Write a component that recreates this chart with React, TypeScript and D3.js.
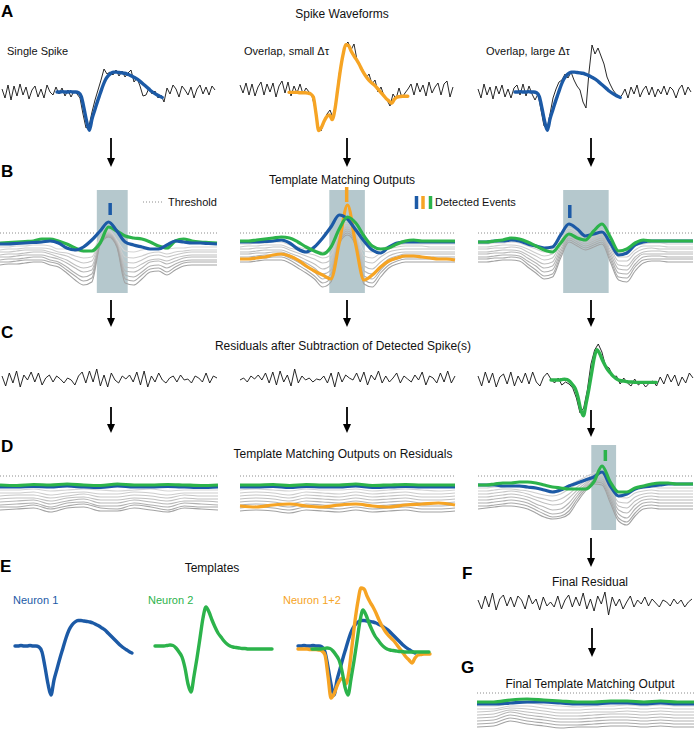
import React from 'react';
import * as d3 from 'd3';

const FONT = '"Liberation Sans", Arial, Helvetica, sans-serif';
const BLUE = '#1c5aa6';
const GREEN = '#2cb34b';
const ORANGE = '#f6a424';
const SHADE = '#b5c8cd';
const INK = '#111111';

// templates, sampled every 3 px in panel E (amplitude in px, up = positive)
const neuron1 = [0, 0, 0.5, 0, 0, 0.5, 0, 0, -1, -6, -21, -38, -49, -34, -23, -12, -2, 8, 16, 21, 24, 25.5, 25.5, 25, 24.5, 24, 23, 21.5, 20, 18, 16, 13, 10, 7, 4, 1, -1.5, -3.5, -5.5, -7];
const neuron2 = [0, 0, 0, 0, 0.5, 1, 0.5, -2, -6, -11, -22, -38, -46, -30, -12, 8, 28, 39, 34, 26, 19, 13, 9, 5, 2, 0, -1, -1.5, -2, -2.5, -2.5, -3, -3, -3, -3, -3, -3, -3, -3, -3];
const neuron12 = [-3, -3, -3, -3, -3.5, -3.5, -3.5, -4, -5, -9, -30, -52, -48, -40, -34, -32, -38, -25, 0, 25, 45, 58, 57, 50, 44, 39, 33, 26, 20, 15, 11, 8, 5, 1, -3, -7, -11, -14, -17, -12, -9, -8.5, -8, -8, -8];

// raw recordings (px, up = positive)
const rawSingle = [3, -6, 7, -8, 6, -4, 8, -3, 5, -7, 2, 6, -5, 3, -6, 7, 0, -3, 5, -2, 4, -4, 2, -5, 1, -2, -6, -22, -36, -34, -20, -8, 2, 12, 23, 18, 20, 17, 22, 16, 21, 15, 19, 22, 10, 14, 6, -4, -3, 4, -2, 1, -6, -3, -10, 4, -2, 7, 3, -5, 6, 2, -3, 5, -6, 3, 7, -2, 5, -3, 6, 2];
const rawSmallDt = [5, -3, 7, -5, 6, -6, 3, 8, -5, 6, -2, 7, -7, 4, 9, -3, 8, -6, 4, -3, 6, -4, 2, -2, -6, -18, -36, -41, -32, -24, -20, -28, -10, 15, 32, 45, 48, 40, 46, 30, 24, 20, 12, 16, 6, 10, -2, 3, -6, -10, -16, -4, -9, 2, -8, -3, 1, 6, -5, 7, -2, 5, -6, 8, -3, 3, 7, -5, 6, 9, -7, 3];
const rawLargeDt = [3, -6, 8, -3, 5, -7, 6, -2, 7, -5, 3, -6, 4, 7, -3, 8, -4, 6, -2, -8, -2, -18, -34, -37, -22, -6, 3, 10, 12, 18, 14, 20, 12, 6, 2, -10, -16, 20, 47, 38, 44, 36, 28, 15, 8, 2, -2, -6, -3, 3, -6, 5, -2, 7, -5, 2, 6, -3, 5, -5, 3, -2, 6, -3, 5, 2, -6, 3, 7, -3, 5, 0];
const residual1 = [3, -7, 6, -4, 8, -8, 4, -1, 7, -3, 6, -6, 1, 4, -3, 3, 0, -4, 1, -1, -6, 3, 7, -4, 8, -3, 10, -7, 4, -8, 6, -1, -4, 3, 0, 4, -3, 7, -6, 8, -8, 3, -3, 6, -1, -4, 1, 3, -3, 4, -1, 0, -4, 3, 1, -3, 6, -4, 3, 1];
const residual2 = [-1, 1, -3, 3, 0, 4, -1, 6, -4, 7, -6, 8, -3, 4, -7, 10, -4, 3, -1, 1, -3, 0, -1, 3, -4, 6, -8, 7, -3, 4, 1, -1, 6, -3, 7, -6, 4, -1, 8, -4, 3, -3, 1, 6, -4, 3, 0, -3, 4, -1, 7, -6, 3, 1, -4, 6, -3, 8, -4, 3];
const residual3 = [4, -6, 8, -3, 7, -7, 3, 6, -4, 8, -6, 4, -3, 7, -4, 8, -2, -6, 3, 7, 1, -3, 2, -5, -2, -4, -8, -18, -33, -28, -10, 16, 30, 36, 28, 14, 12, 3, 4, -4, 2, -3, -6, 1, -5, -2, -7, -3, -1, -6, 3, -4, 6, -2, 5, -6, 3, -3, 7, 2];
const finalResidual = [3, -6, 7, -4, 10, -7, 4, 8, -3, 6, -4, 7, 3, -6, 8, -1, 4, -7, 6, -3, 1, -4, 7, -6, 3, 8, -4, 6, -3, 10, -6, 4, -8, 7, -1, 11, -12, 6, -3, 4, -6, 1, 7, -4, 3, -1, 6, -3, 4, 0, -4, 3, 1, -3, 4, -1, 3, -4, 1, 4];

// template matching outputs (px relative to threshold)
const b1Blue = [-11, -11, -10.5, -10, -9.5, -9, -8, -10, -15, -17, -14, -7, 2, 11, 2, -9, -12, -14, -16, -16, -12, -8, -9, -10, -10, -10.5, -11];
const b1Green = [-10, -9.5, -9, -8.5, -8, -6, -6, -8, -11, -15, -18, -18, -10, 6, 2, -3, -5, -6, -9, -13, -15, -8, -6, -8, -9, -9.5, -10];
const b1Gray = [
  [-14, -14, -13, -13, -12, -12, -13, -16, -16, -18, -19, -18, -5, 3, -7, -18, -19, -17, -16, -15, -16, -15, -15, -14, -14, -14, -14],
  [-17, -16, -16, -15, -15, -15, -16, -19, -20, -23, -25, -24, -6, 2, -8, -24, -25, -23, -20, -19, -21, -19, -18, -17, -17, -17, -17],
  [-19, -19, -18, -17, -17, -17, -19, -21, -23, -27, -30, -28, -7, 1, -9, -29, -30, -27, -23, -22, -24, -22, -20, -19, -19, -19, -19],
  [-22, -21, -21, -20, -19, -19, -21, -24, -27, -32, -35, -33, -8, 0, -10, -34, -35, -31, -27, -26, -28, -25, -23, -22, -22, -22, -22],
  [-24, -24, -23, -22, -22, -22, -24, -26, -30, -35, -39, -37, -9, -1, -11, -38, -39, -35, -29, -28, -31, -28, -25, -24, -24, -24, -24],
  [-27, -26, -26, -25, -24, -24, -27, -29, -34, -40, -44, -41, -10, -2, -12, -42, -44, -39, -33, -32, -35, -31, -28, -27, -27, -27, -27],
  [-29, -29, -28, -27, -27, -27, -29, -31, -37, -43, -48, -45, -11, -3, -13, -46, -48, -42, -36, -35, -39, -34, -30, -29, -29, -29, -29],
  [-32, -31, -31, -30, -29, -29, -32, -34, -40, -47, -52, -49, -12, -4, -14, -50, -52, -46, -39, -38, -42, -37, -33, -32, -32, -32, -32],
];
const b2Blue = [-9, -9, -9, -8.5, -8, -7, -10, -16, -19, -14, -5, 6, 18, 14, 3, -8, -17, -20, -14, -10, -9, -9, -9, -9, -9, -9, -9];
const b2Green = [-8, -8, -7, -6, -5, -4, -5, -9, -14, -18, -21, -14, 4, 16, 10, -3, -13, -16, -15, -11, -8, -7, -8, -8, -8, -8, -8];
const b2Orange = [-26, -26, -25, -24, -22, -21, -23, -27, -33, -38, -42, -46, -10, 28, -12, -47, -42, -34, -28, -25, -23, -23, -24, -25, -26, -26, -27];
const b2Gray = [
  [-11, -11, -10, -10, -9, -9, -12, -14, -16, -17, -19, -17, 4, 12, 2, -18, -19, -16, -13, -12, -11, -11, -11, -11, -11, -11, -11],
  [-14, -13, -13, -12, -12, -12, -15, -17, -20, -22, -25, -22, 1, 10, 0, -23, -25, -20, -16, -14, -13, -13, -13, -14, -14, -14, -14],
  [-16, -16, -15, -15, -14, -14, -17, -20, -23, -26, -30, -27, -1, 8, -2, -28, -30, -24, -19, -17, -16, -16, -16, -16, -16, -16, -16],
  [-19, -19, -18, -17, -17, -17, -20, -23, -27, -31, -36, -32, -3, 6, -5, -33, -36, -29, -23, -20, -19, -19, -19, -19, -19, -19, -19],
  [-21, -21, -20, -20, -19, -19, -22, -26, -30, -35, -41, -37, -5, 4, -7, -38, -41, -33, -26, -23, -21, -21, -21, -21, -21, -21, -21],
  [-24, -24, -23, -22, -22, -22, -25, -29, -34, -39, -46, -41, -7, 2, -9, -43, -46, -37, -29, -26, -24, -24, -24, -24, -24, -24, -24],
  [-26, -26, -25, -25, -24, -24, -27, -32, -37, -43, -50, -45, -9, 0, -11, -47, -50, -40, -32, -28, -26, -26, -26, -26, -26, -26, -26],
  [-29, -29, -28, -27, -27, -27, -30, -35, -40, -46, -54, -49, -11, -2, -13, -51, -54, -44, -35, -31, -29, -29, -29, -29, -29, -29, -29],
];
const b3Blue = [-9, -9, -8, -8, -7, -8, -11, -13, -15, -14, -2, 9, 4, -3, -1, 1, -10, -22, -20, -12, -9, -8, -8, -8, -8, -8, -8];
const b3Green = [-9, -9, -8, -7, -5, -6, -9, -13, -17, -19, -10, -1, -5, -7, 2, 9, -4, -18, -16, -10, -7, -8, -8, -8, -8, -8, -8];
const b3Gray = [
  [-11, -11, -10, -10, -9, -10, -13, -16, -19, -16, -4, 5, 1, -3, 0, 3, -8, -20, -19, -13, -11, -10, -10, -11, -11, -11, -11],
  [-14, -14, -13, -12, -12, -13, -16, -20, -23, -21, -7, 3, -1, -5, -2, 1, -11, -24, -24, -17, -13, -13, -13, -14, -14, -14, -14],
  [-16, -16, -15, -15, -14, -15, -19, -23, -27, -25, -10, 1, -3, -7, -4, -1, -14, -28, -28, -20, -16, -15, -16, -16, -16, -16, -16],
  [-19, -19, -18, -17, -17, -18, -22, -27, -31, -29, -13, -1, -5, -9, -6, -3, -17, -32, -33, -24, -19, -18, -18, -19, -19, -19, -19],
  [-21, -21, -20, -20, -19, -20, -25, -30, -35, -33, -16, -3, -7, -11, -8, -5, -20, -36, -37, -27, -21, -21, -21, -21, -21, -21, -21],
  [-24, -24, -23, -22, -22, -23, -28, -33, -39, -37, -19, -5, -9, -13, -10, -7, -23, -40, -41, -31, -24, -23, -23, -24, -24, -24, -24],
  [-26, -26, -25, -25, -24, -25, -31, -37, -43, -41, -22, -7, -11, -15, -12, -9, -26, -44, -45, -34, -27, -26, -26, -26, -26, -26, -26],
  [-29, -29, -28, -27, -27, -28, -34, -40, -46, -44, -25, -9, -13, -17, -14, -11, -29, -47, -49, -38, -30, -28, -28, -29, -29, -29, -29],
];
const d1Green = [-9, -9.5, -8.5, -9, -8, -9, -9.5, -8, -9, -9, -8.5, -9, -9.5, -9];
const d1Blue = [-11, -11, -10.5, -11, -10, -11, -11.5, -10, -11, -11, -10.5, -11, -11.5, -11];
const d1Gray = [
  [-14, -14, -13, -15, -14, -13, -14, -15, -14, -13, -15, -14, -14, -14],
  [-17, -17, -16, -19, -17, -16, -18, -18, -16, -17, -19, -17, -17, -17],
  [-20, -19, -19, -22, -20, -18, -21, -21, -19, -20, -22, -19, -20, -20],
  [-23, -22, -22, -25, -22, -21, -24, -24, -22, -23, -25, -22, -23, -23],
  [-26, -25, -24, -28, -25, -23, -27, -27, -24, -26, -28, -25, -25, -26],
  [-29, -28, -27, -31, -27, -26, -30, -30, -27, -29, -31, -27, -28, -29],
  [-31, -31, -29, -33, -30, -28, -32, -33, -29, -31, -34, -30, -31, -31],
  [-34, -33, -32, -36, -32, -31, -35, -35, -32, -34, -36, -32, -33, -34],
];
const d2Green = [-9, -9, -8.5, -9.5, -8.5, -9, -9, -8, -9.5, -9, -8.5, -9, -9, -9];
const d2Blue = [-11, -11, -10.5, -11.5, -10.5, -11, -11, -10, -11.5, -11, -10.5, -11, -11, -11];
const d2Orange = [-30, -31, -29, -28, -30, -31, -29, -28, -30, -31, -29, -28, -27, -29];
const d2Gray = [
  [-14, -13, -14, -15, -13, -14, -14, -13, -15, -14, -13, -14, -15, -14],
  [-17, -16, -17, -19, -16, -17, -18, -16, -18, -17, -16, -18, -18, -17],
  [-20, -19, -20, -22, -19, -20, -21, -19, -21, -20, -19, -21, -21, -20],
  [-23, -22, -23, -25, -22, -23, -24, -22, -24, -23, -22, -24, -24, -23],
  [-26, -25, -26, -28, -25, -26, -27, -25, -27, -26, -25, -27, -27, -26],
  [-29, -28, -29, -31, -28, -29, -30, -28, -30, -29, -28, -30, -30, -29],
  [-32, -31, -32, -34, -31, -32, -33, -31, -33, -32, -31, -33, -33, -32],
  [-35, -34, -35, -37, -34, -35, -36, -34, -36, -35, -34, -36, -36, -35],
];
const d3Blue = [-9, -9, -9, -10, -10, -10, -11, -12, -14, -16, -14, -10, -7, -4, -1, 4, -10, -20, -18, -13, -11, -10, -9, -8, -8, -8, -8];
const d3Green = [-9, -9, -8, -7, -7, -6, -6, -7, -9, -11, -12, -13, -13, -13, -6, 10, -6, -16, -16, -12, -10, -8, -7, -7, -8, -8, -8];
const d3Gray = [
  [-12, -12, -11, -11, -10, -11, -12, -13, -14, -15, -13, -9, -5, -1, 3, 5, -6, -16, -17, -13, -12, -11, -12, -12, -12, -12, -12],
  [-15, -15, -14, -13, -13, -14, -15, -17, -19, -20, -18, -13, -8, -3, 1, 3, -9, -21, -22, -17, -15, -14, -15, -15, -15, -15, -15],
  [-18, -18, -17, -16, -15, -16, -18, -21, -23, -25, -23, -18, -11, -5, 0, 1, -12, -26, -27, -21, -18, -17, -18, -18, -18, -18, -18],
  [-21, -21, -20, -19, -18, -19, -21, -24, -27, -29, -28, -22, -14, -7, -2, -1, -15, -30, -32, -25, -21, -20, -21, -21, -21, -21, -21],
  [-24, -24, -23, -22, -21, -22, -24, -28, -31, -34, -33, -27, -17, -9, -3, -3, -18, -34, -37, -29, -24, -23, -24, -24, -24, -24, -24],
  [-27, -27, -26, -25, -24, -25, -27, -31, -35, -38, -37, -31, -20, -11, -5, -5, -21, -38, -42, -33, -27, -26, -27, -27, -27, -27, -27],
  [-30, -30, -29, -28, -27, -28, -30, -34, -38, -41, -40, -35, -23, -13, -6, -7, -24, -42, -46, -37, -30, -29, -30, -30, -30, -30, -30],
  [-33, -32, -31, -30, -30, -31, -33, -37, -41, -43, -42, -38, -26, -15, -8, -9, -27, -45, -49, -40, -33, -32, -33, -33, -33, -33, -33],
];
const gGreen = [-9, -9, -7, -6, -7, -8, -9, -9, -8, -8, -9, -8, -9, -9];
const gBlue = [-11, -11, -10, -9, -9, -10, -11, -11, -10, -10, -11, -10, -11, -11];
const gGray = [
  [-13, -13, -11, -10, -12, -13, -14, -13, -13, -12, -13, -12, -13, -13],
  [-16, -16, -13, -13, -15, -17, -17, -16, -16, -15, -16, -15, -16, -16],
  [-19, -18, -15, -16, -18, -20, -20, -19, -19, -18, -19, -18, -19, -19],
  [-22, -21, -17, -19, -21, -23, -23, -22, -21, -21, -22, -21, -22, -22],
  [-25, -24, -19, -22, -24, -26, -26, -25, -24, -24, -25, -24, -25, -25],
  [-28, -27, -22, -25, -27, -29, -29, -28, -27, -27, -28, -27, -28, -28],
  [-31, -30, -25, -28, -30, -32, -32, -31, -30, -30, -31, -30, -31, -31],
  [-34, -33, -28, -31, -33, -35, -34, -34, -33, -33, -34, -33, -34, -34],
];

// detection windows and events, in sample-index units: [B1, B2, B3, D3]
const windowFrom = [11.6, 10.8, 10.3, 13.7];
const windowTo = [15.3, 15.1, 15.8, 16.7];
const eventAt = [13.2, 12.9, 11.1, 15.4];

const linePath = (values: number[], x0: number, x1: number, base: number, k = 1, curve: d3.CurveFactory = d3.curveLinear) => {
  const x = d3.scaleLinear().domain([0, values.length - 1]).range([x0, x1]);
  const y = d3.scaleLinear().domain([0, 1]).range([base, base - k]);
  return d3.line<number>().x((_, i) => x(i)).y((d) => y(d)).curve(curve)(values) ?? '';
};

const Trace = ({ values, x0, x1, base }: { values: number[]; x0: number; x1: number; base: number }) => (
  <path d={linePath(values, x0, x1, base)} fill="none" stroke={INK} strokeWidth={0.9} strokeLinejoin="round" />
);

const Template = ({ values, x0, step, base, k, color }: { values: number[]; x0: number; step: number; base: number; k: number; color: string }) => (
  <path
    d={linePath(values, x0, x0 + step * (values.length - 1), base, k, d3.curveMonotoneX)}
    fill="none" stroke={color} strokeWidth={3.4} strokeLinecap="round" strokeLinejoin="round"
  />
);

type Win = { idx: number; top: number; bottom: number; markTop: number; markBottom: number; color: string };

const MatchPanel = ({ x0, x1, thr, grays, lines, win }: { x0: number; x1: number; thr: number; grays: number[][]; lines: { data: number[]; color: string }[]; win?: Win }) => {
  const n = grays[0].length;
  const x = d3.scaleLinear().domain([0, n - 1]).range([x0, x1]);
  const y = d3.scaleLinear().domain([0, 1]).range([thr, thr - 1]);
  const line = d3.line<number>().x((_, i) => x(i)).y((d) => y(d)).curve(d3.curveMonotoneX);
  const grayColor = d3.interpolateRgb('#d4d4d4', '#a2a2a2');
  return (
    <g>
      <line x1={x0} x2={x1} y1={thr} y2={thr} stroke="#8c8c8c" strokeWidth={1} strokeDasharray="1 2" />
      {win && (
        <rect
          x={x(windowFrom[win.idx])} width={x(windowTo[win.idx]) - x(windowFrom[win.idx])}
          y={y(win.top)} height={y(win.bottom) - y(win.top)} fill={SHADE}
        />
      )}
      {grays.map((g, j) => (
        <path key={j} d={line(g) ?? ''} fill="none" stroke={grayColor(j / (grays.length - 1))} strokeWidth={1.1} />
      ))}
      {lines.map((l, j) => (
        <path key={j} d={line(l.data) ?? ''} fill="none" stroke={l.color} strokeWidth={3.2} strokeLinejoin="round" />
      ))}
      {win && (
        <line x1={x(eventAt[win.idx])} x2={x(eventAt[win.idx])} y1={y(win.markTop)} y2={y(win.markBottom)} stroke={win.color} strokeWidth={3.5} />
      )}
    </g>
  );
};

const Arrow = ({ x, y1, y2 }: { x: number; y1: number; y2: number }) => (
  <g>
    <line x1={x} x2={x} y1={y1} y2={y2 - 7} stroke="#000" strokeWidth={1.8} />
    <path d={`M${x - 4},${y2 - 9}L${x + 4},${y2 - 9}L${x},${y2}Z`} fill="#000" />
  </g>
);

const Letter = ({ x, y, t }: { x: number; y: number; t: string }) => (
  <text x={x} y={y} fontFamily={FONT} fontSize={17} fontWeight="bold" fill="#000">{t}</text>
);

const Label = ({ x, y, t, size = 12, anchor = 'start', color = '#111' }: { x: number; y: number; t: string; size?: number; anchor?: string; color?: string }) => (
  <text x={x} y={y} fontFamily={FONT} fontSize={size} textAnchor={anchor as any} fill={color}>{t}</text>
);

export default function App() {
  return (
    <svg width={695} height={732} style={{ position: 'absolute', left: 0, top: 0, background: '#fff' }}>
      {/* A */}
      <Letter x={1} y={17} t="A" />
      <Label x={342} y={18} t="Spike Waveforms" anchor="middle" />
      <Label x={7} y={55} t="Single Spike" size={11} />
      <Label x={244} y={55} t="Overlap, small Δτ" size={11} />
      <Label x={486} y={55} t="Overlap, large Δτ" size={11} />
      <Trace values={rawSingle} x0={2} x1={215} base={92} />
      <Template values={neuron1} x0={57} step={2.7} base={92} k={0.78} color={BLUE} />
      <Trace values={rawSmallDt} x0={240} x1={453} base={90} />
      <Template values={neuron12} x0={289} step={2.7} base={90} k={0.78} color={ORANGE} />
      <Trace values={rawLargeDt} x0={478} x1={691} base={92} />
      <Template values={neuron1} x0={515} step={2.7} base={92} k={0.78} color={BLUE} />
      <Arrow x={111} y1={138} y2={167} />
      <Arrow x={347} y1={138} y2={167} />
      <Arrow x={591} y1={138} y2={167} />

      {/* B */}
      <Letter x={1} y={177} t="B" />
      <Label x={342} y={184} t="Template Matching Outputs" anchor="middle" />
      <MatchPanel x0={0} x1={217} thr={233} grays={b1Gray}
        lines={[{ data: b1Green, color: GREEN }, { data: b1Blue, color: BLUE }]}
        win={{ idx: 0, top: 43, bottom: -60, markTop: 30, markBottom: 18, color: BLUE }} />
      <MatchPanel x0={240} x1={455} thr={233} grays={b2Gray}
        lines={[{ data: b2Orange, color: ORANGE }, { data: b2Blue, color: BLUE }, { data: b2Green, color: GREEN }]}
        win={{ idx: 1, top: 43, bottom: -60, markTop: 46, markBottom: 31, color: ORANGE }} />
      <MatchPanel x0={478} x1={693} thr={233} grays={b3Gray}
        lines={[{ data: b3Blue, color: BLUE }, { data: b3Green, color: GREEN }]}
        win={{ idx: 2, top: 43, bottom: -60, markTop: 28, markBottom: 15, color: BLUE }} />
      <line x1={143} x2={164} y1={202} y2={202} stroke="#8c8c8c" strokeWidth={1} strokeDasharray="1 2" />
      <Label x={168} y={206} t="Threshold" size={11} />
      <line x1={416.5} x2={416.5} y1={196} y2={209} stroke={BLUE} strokeWidth={3.5} />
      <line x1={423} x2={423} y1={196} y2={209} stroke={ORANGE} strokeWidth={3.5} />
      <line x1={430.5} x2={430.5} y1={196} y2={209} stroke={GREEN} strokeWidth={3.5} />
      <Label x={435} y={206} t="Detected Events" size={11} />
      <Arrow x={111} y1={300} y2={327} />
      <Arrow x={347} y1={300} y2={327} />
      <Arrow x={591} y1={300} y2={327} />

      {/* C */}
      <Letter x={1} y={338} t="C" />
      <Label x={343} y={350} t="Residuals after Subtraction of Detected Spike(s)" anchor="middle" />
      <Trace values={residual1} x0={2} x1={217} base={379} />
      <Trace values={residual2} x0={240} x1={455} base={379} />
      <Trace values={residual3} x0={478} x1={693} base={380} />
      <Template values={neuron2} x0={551} step={2.7} base={380} k={0.78} color={GREEN} />
      <Arrow x={111} y1={407} y2={433} />
      <Arrow x={347} y1={407} y2={433} />
      <Arrow x={591} y1={410} y2={437} />

      {/* D */}
      <Letter x={1} y={452} t="D" />
      <Label x={343} y={458} t="Template Matching Outputs on Residuals" anchor="middle" />
      <MatchPanel x0={0} x1={218} thr={476} grays={d1Gray}
        lines={[{ data: d1Blue, color: BLUE }, { data: d1Green, color: GREEN }]} />
      <MatchPanel x0={240} x1={455} thr={476} grays={d2Gray}
        lines={[{ data: d2Orange, color: ORANGE }, { data: d2Blue, color: BLUE }, { data: d2Green, color: GREEN }]} />
      <MatchPanel x0={478} x1={693} thr={476} grays={d3Gray}
        lines={[{ data: d3Blue, color: BLUE }, { data: d3Green, color: GREEN }]}
        win={{ idx: 3, top: 31, bottom: -54, markTop: 26, markBottom: 15, color: GREEN }} />
      <Arrow x={591} y1={538} y2={567} />

      {/* E */}
      <Letter x={0} y={572} t="E" />
      <Label x={212} y={572} t="Templates" anchor="middle" />
      <Label x={13} y={604} t="Neuron 1" size={11} color={BLUE} />
      <Label x={148} y={604} t="Neuron 2" size={11} color={GREEN} />
      <Label x={283} y={604} t="Neuron 1+2" size={11} color={ORANGE} />
      <Template values={neuron1} x0={15} step={3} base={646} k={1} color={BLUE} />
      <Template values={neuron2} x0={155} step={3} base={646} k={1} color={GREEN} />
      <Template values={neuron1} x0={298} step={3} base={646} k={1} color={BLUE} />
      <Template values={neuron12} x0={298} step={3} base={646} k={1} color={ORANGE} />
      <Template values={neuron2} x0={312} step={3} base={649} k={1} color={GREEN} />

      {/* F */}
      <Letter x={462} y={579} t="F" />
      <Label x={590} y={586} t="Final Residual" anchor="middle" />
      <Trace values={finalResidual} x0={478} x1={692} base={603} />
      <Arrow x={592} y1={628} y2={657} />

      {/* G */}
      <Letter x={461} y={673} t="G" />
      <Label x={590} y={688} t="Final Template Matching Output" anchor="middle" />
      <MatchPanel x0={477} x1={694} thr={693} grays={gGray}
        lines={[{ data: gBlue, color: BLUE }, { data: gGreen, color: GREEN }]} />
    </svg>
  );
}
